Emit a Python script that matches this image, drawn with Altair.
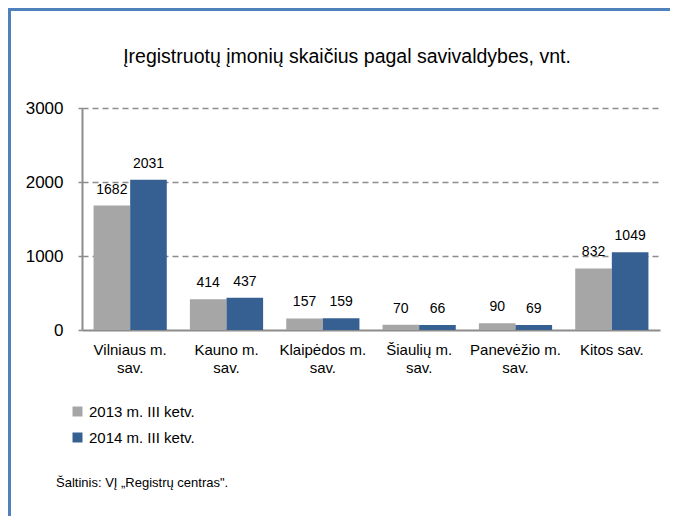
import altair as alt
import pandas as pd

categories = ["Vilniaus m.\nsav.", "Kauno m.\nsav.", "Klaipėdos m.\nsav.",
              "Šiaulių m.\nsav.", "Panevėžio m.\nsav.", "Kitos sav."]
series = ["2013 m. III ketv.", "2014 m. III ketv."]
values_2013 = [1682, 414, 157, 70, 90, 832]
values_2014 = [2031, 437, 159, 66, 69, 1049]
title_text = "Įregistruotų įmonių skaičius pagal savivaldybes, vnt."
source_text = "Šaltinis: VĮ „Registrų centras\"."
y_ticks = [0, 1000, 2000, 3000]
colors = ["#A6A6A6", "#376092"]

rows = []
for c, a, b in zip(categories, values_2013, values_2014):
    rows.append({"cat": c, "series": series[0], "value": a})
    rows.append({"cat": c, "series": series[1], "value": b})
df = pd.DataFrame(rows)

SANS = "Liberation Sans, Arial, sans-serif"

x = alt.X("cat:N", sort=categories, title=None,
          scale=alt.Scale(paddingInner=0.24, paddingOuter=0.12),
          axis=alt.Axis(labelAngle=0, ticks=False, domainColor="#8C8C8C", domainWidth=2,
                        labelFont=SANS, labelFontSize=15, labelColor="#000000",
                        labelLineHeight=18, labelPadding=12,
                        labelExpr="split(datum.value, '\\n')"))
y = alt.Y("value:Q", title=None,
          scale=alt.Scale(domain=[0, 3000], nice=False),
          axis=alt.Axis(values=y_ticks, format="d", grid=True, gridDash=[6, 4],
                        gridColor="#8C8C8C", gridWidth=1.5,
                        gridOpacity=alt.condition("datum.value === 0", alt.value(0), alt.value(1)),
                        domainColor="#8C8C8C", domainWidth=2, tickColor="#8C8C8C",
                        tickSize=4, tickWidth=1.5, labelPadding=15,
                        labelFont=SANS, labelFontSize=17, labelFontWeight="normal",
                        labelColor="#000000"))
xo = alt.XOffset("series:N", sort=series, scale=alt.Scale(paddingInner=0, paddingOuter=0))

bars = alt.Chart(df).mark_bar().encode(
    x=x, y=y, xOffset=xo,
    color=alt.Color("series:N", sort=series,
                    scale=alt.Scale(domain=series, range=colors),
                    legend=alt.Legend(title=None, orient="none", legendX=-12, legendY=296,
                                      symbolType="square", symbolSize=100,
                                      symbolStrokeWidth=0, labelFont=SANS,
                                      labelFontSize=15, labelColor="#000000",
                                      labelOffset=4, rowPadding=10, padding=0)),
)

labels = alt.Chart(df).mark_text(baseline="alphabetic", dy=-12, font=SANS,
                                 fontSize=14, color="#000000").encode(
    x=x, y=y, xOffset=xo, text=alt.Text("value:Q", format="d"))

one = pd.DataFrame({"t": [title_text], "s": [source_text]})

title = alt.Chart(one).mark_text(
    align="center", baseline="alphabetic", font=SANS, fontSize=19.5, color="#000000"
).encode(x=alt.value(265), y=alt.value(-45), text="t:N")

source = alt.Chart(one).mark_text(
    align="left", baseline="alphabetic", font=SANS, fontSize=13, color="#000000"
).encode(x=alt.value(-26), y=alt.value(379), text="s:N")

frame_top = alt.Chart(one).mark_rule(color="#4F81BD", strokeWidth=3).encode(
    x=alt.value(-74), x2=alt.value(588), y=alt.value(-98.5))
frame_left = alt.Chart(one).mark_rule(color="#4F81BD", strokeWidth=3).encode(
    x=alt.value(-72.5), y=alt.value(-100), y2=alt.value(408))

chart = alt.layer(bars, labels, title, source, frame_top, frame_left).properties(
    width=578, height=222,
    autosize=alt.AutoSizeParams(type="none"),
    padding={"left": 74, "top": 100, "right": 10, "bottom": 186},
    background="#FFFFFF",
).configure_view(stroke=None)

chart.save("out.html", embed_options={"renderer": "svg", "actions": False})
